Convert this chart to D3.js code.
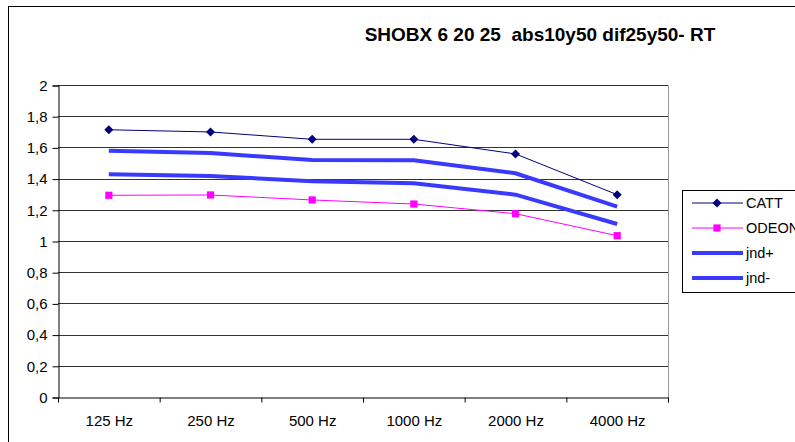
<!DOCTYPE html>
<html>
<head>
<meta charset="utf-8">
<script src="https://cdn.jsdelivr.net/npm/d3@7"></script>
<style>
  body { margin: 0; background: #fff; }
  svg { display: block; font-family: "Liberation Sans", Arial, sans-serif; }
</style>
</head>
<body>
<svg width="795" height="442"></svg>
<script>
const title = "SHOBX 6 20 25  abs10y50 dif25y50- RT";
const bands = ["125 Hz", "250 Hz", "500 Hz", "1000 Hz", "2000 Hz", "4000 Hz"];
const yTicks = [0, 0.2, 0.4, 0.6, 0.8, 1, 1.2, 1.4, 1.6, 1.8, 2];

const catt = [1.713, 1.699, 1.652, 1.652, 1.558, 1.297];
const odeon = [1.293, 1.295, 1.263, 1.237, 1.175, 1.034];
const jndPlus = [1.578, 1.564, 1.519, 1.517, 1.434, 1.220];
const jndMinus = [1.428, 1.417, 1.383, 1.370, 1.297, 1.109];

const series = [
  { name: "CATT", values: catt, color: "#000080", width: 1, marker: "diamond" },
  { name: "ODEON", values: odeon, color: "#ff00ff", width: 1, marker: "square" },
  { name: "jnd+", values: jndPlus, color: "#3a3aff", width: 4, marker: null },
  { name: "jnd-", values: jndMinus, color: "#3a3aff", width: 4, marker: null }
];

const svg = d3.select("svg");

// outer chart border
svg.append("rect")
  .attr("x", 8.5).attr("y", 6.5)
  .attr("width", 800).attr("height", 450)
  .attr("fill", "none").attr("stroke", "#000");

svg.append("text")
  .attr("x", 540).attr("y", 41)
  .attr("text-anchor", "middle")
  .attr("font-size", 19).attr("font-weight", "bold")
  .style("white-space", "pre")
  .text(title);

const plotL = 58, plotR = 668, plotT = 85, plotB = 397;

const x = d3.scaleBand().domain(bands).range([plotL, plotR]);
const y = d3.scaleLinear().domain([0, 2]).range([plotB, plotT]);

// gridlines
svg.append("g")
  .selectAll("line")
  .data(yTicks.filter(d => d > 0))
  .join("line")
  .attr("x1", plotL).attr("x2", plotR)
  .attr("y1", d => Math.round(y(d)) + 0.5)
  .attr("y2", d => Math.round(y(d)) + 0.5)
  .attr("stroke", "#333");

// plot-area right border
svg.append("line")
  .attr("x1", plotR + 0.5).attr("x2", plotR + 0.5)
  .attr("y1", plotT).attr("y2", plotB)
  .attr("stroke", "#999");

const yAxis = svg.append("g")
  .attr("transform", `translate(${plotL + 0.5},0.5)`)
  .call(d3.axisLeft(y).tickValues(yTicks)
    .tickFormat(d => String(d).replace(".", ","))
    .tickSize(6).tickPadding(5));

const xAxis = svg.append("g")
  .attr("transform", `translate(0.5,${plotB + 0.5})`)
  .call(d3.axisBottom(x).tickSize(0).tickPadding(18));

// category boundary ticks on the x axis
xAxis.selectAll(".bound")
  .data(d3.range(bands.length + 1))
  .join("line")
  .attr("class", "bound")
  .attr("x1", i => plotL + i * x.step())
  .attr("x2", i => plotL + i * x.step())
  .attr("y1", 0).attr("y2", 5)
  .attr("stroke", "#000");

[yAxis, xAxis].forEach(g => {
  g.attr("font-size", 15).attr("font-family", "'Liberation Sans', Arial, sans-serif");
  g.selectAll("path.domain").attr("stroke", "#000");
  g.selectAll("text").attr("fill", "#000");
});

const cx = d => x(d) + x.bandwidth() / 2;
const line = d3.line().x((d, i) => cx(bands[i])).y(d => y(d));

// Excel-style markers: diamond as a rotated square
const diamond = "M0,-4.5L4.5,0L0,4.5L-4.5,0Z";
const square = "M-3.6,-3.6H3.6V3.6H-3.6Z";

series.forEach(s => {
  svg.append("path")
    .datum(s.values)
    .attr("d", line)
    .attr("fill", "none")
    .attr("stroke", s.color)
    .attr("stroke-width", s.width);
  if (s.marker) {
    svg.append("g").selectAll("path")
      .data(s.values)
      .join("path")
      .attr("transform", (d, i) => `translate(${cx(bands[i])},${y(d)})`)
      .attr("d", s.marker === "diamond" ? diamond : square)
      .attr("fill", s.color);
  }
});

// legend
const legend = svg.append("g");
legend.append("rect")
  .attr("x", 682.5).attr("y", 190.5)
  .attr("width", 130).attr("height", 102)
  .attr("fill", "#fff").attr("stroke", "#000");

const rows = legend.selectAll("g.row")
  .data(series)
  .join("g")
  .attr("class", "row")
  .attr("transform", (d, i) => `translate(0,${203 + i * 25})`);

rows.append("line")
  .attr("x1", 692).attr("x2", 743)
  .attr("stroke", d => d.color)
  .attr("stroke-width", d => d.width);

rows.filter(d => d.marker)
  .append("path")
  .attr("transform", "translate(717,0)")
  .attr("d", d => d.marker === "diamond" ? diamond : square)
  .attr("fill", d => d.color);

rows.append("text")
  .attr("x", 746).attr("dy", "0.35em")
  .attr("font-size", 14.5)
  .text(d => d.name);
</script>
</body>
</html>
